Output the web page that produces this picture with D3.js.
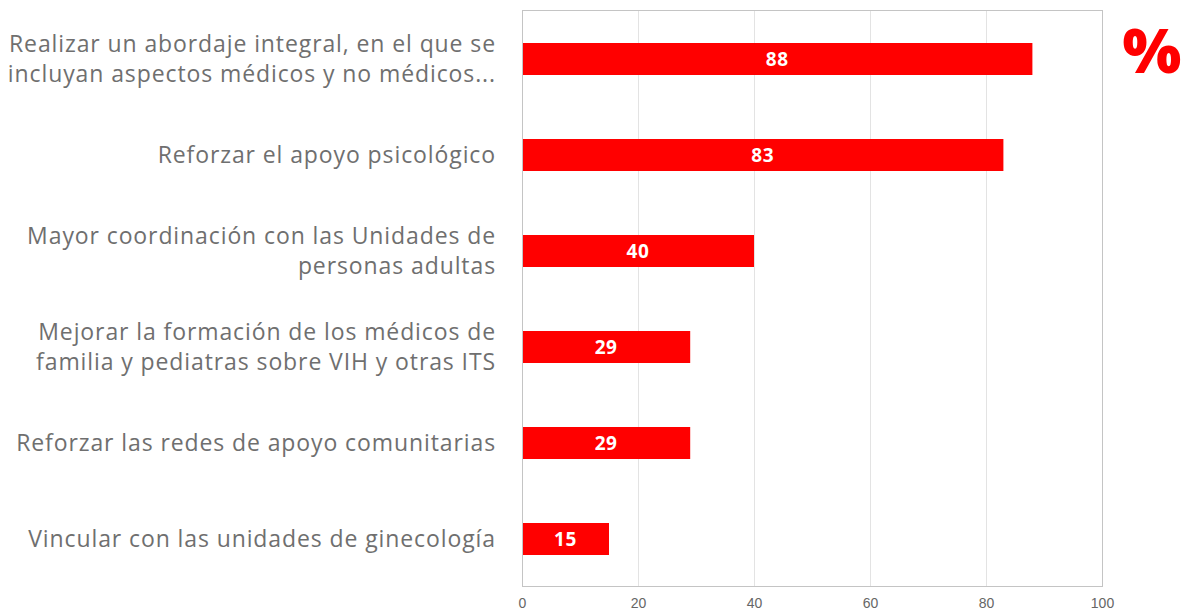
<!DOCTYPE html>
<html>
<head>
<meta charset="utf-8">
<script src="https://cdn.jsdelivr.net/npm/d3@7"></script>
<style>
  body { margin: 0; background: #fff; }
  svg { display: block; }
</style>
</head>
<body>
<svg></svg>
<script>
const categories = [
  ["Realizar un abordaje integral, en el que se", "incluyan aspectos médicos y no médicos..."],
  ["Reforzar el apoyo psicológico"],
  ["Mayor coordinación con las Unidades de", "personas adultas"],
  ["Mejorar la formación de los médicos de", "familia y pediatras sobre VIH y otras ITS"],
  ["Reforzar las redes de apoyo comunitarias"],
  ["Vincular con las unidades de ginecología"]
]
const values = [88, 83, 40, 29, 29, 15]
const xTicks = [0, 20, 40, 60, 80, 100]

const w = 1183
const h = 610
const plotLeft = 522
const plotRight = 1102
const plotTop = 11
const plotBottom = 587

const svg = d3.select("svg")
  .attr("width", w)
  .attr("height", h)

//Scales
const xScale = d3.scaleLinear()
  .domain([0, 100])
  .range([plotLeft, plotRight])

const yScale = d3.scaleBand()
  .domain(d3.range(categories.length))
  .range([plotTop, plotBottom])
  .paddingInner(2 / 3)
  .paddingOuter(1 / 3)

//Gridlines
svg.append("g")
  .selectAll("line")
  .data(xTicks)
  .enter()
  .append("line")
  .attr("x1", d => xScale(d) + 0.5)
  .attr("x2", d => xScale(d) + 0.5)
  .attr("y1", plotTop)
  .attr("y2", plotBottom)
  .attr("stroke", "#e3e3e3")
  .attr("stroke-width", 1)

//Frame
svg.append("rect")
  .attr("x", plotLeft + 0.5)
  .attr("y", plotTop - 0.5)
  .attr("width", plotRight - plotLeft)
  .attr("height", plotBottom - plotTop)
  .attr("fill", "none")
  .attr("stroke", "#c4c4c4")
  .attr("stroke-width", 1)

//X axis labels
const bottomAxis = d3.axisBottom(xScale)
  .tickValues(xTicks)
  .tickSize(0)
  .tickPadding(11)

const ax = svg.append("g")
  .attr("transform", `translate(0, ${plotBottom})`)
  .call(bottomAxis)
ax.select(".domain").remove()
ax.selectAll("text")
  .attr("fill", "#666")
  .style("font-family", "'Liberation Sans', Arial, sans-serif")
  .style("font-size", "14px")

//Bars
svg.selectAll(".bar")
  .data(values)
  .enter()
  .append("rect")
  .attr("class", "bar")
  .attr("x", xScale(0) + 1)
  .attr("y", (d, i) => yScale(i))
  .attr("width", d => xScale(d) - xScale(0) - 1)
  .attr("height", yScale.bandwidth())
  .attr("fill", "#ff0000")

//Value labels
svg.selectAll(".val")
  .data(values)
  .enter()
  .append("text")
  .attr("class", "val")
  .attr("x", d => (xScale(0) + xScale(d)) / 2)
  .attr("y", (d, i) => yScale(i) + yScale.bandwidth() / 2)
  .attr("dy", "0.36em")
  .attr("text-anchor", "middle")
  .attr("fill", "#fff")
  .style("font-family", "'Open Sans', sans-serif")
  .style("font-weight", "bold")
  .style("font-size", "19px")
  .style("letter-spacing", "0.6px")
  .text(d => d)

//Category labels
const lineH = 30
const cat = svg.selectAll(".cat")
  .data(categories)
  .enter()
  .append("text")
  .attr("class", "cat")
  .attr("text-anchor", "end")
  .attr("fill", "#6f6f6f")
  .style("font-family", "'Open Sans', sans-serif")
  .style("font-size", "23px")
  .style("letter-spacing", "0.9px")

cat.each(function (lines, i) {
  const cy = yScale(i) + yScale.bandwidth() / 2
  const start = cy - (lines.length - 1) * lineH / 2
  d3.select(this).selectAll("tspan")
    .data(lines)
    .enter()
    .append("tspan")
    .attr("x", 496)
    .attr("y", (d, j) => start + j * lineH)
    .attr("dy", "0.36em")
    .text(d => d)
})

//Percent sign
svg.append("text")
  .attr("x", 1152)
  .attr("y", 73)
  .attr("text-anchor", "middle")
  .attr("fill", "#ff0000")
  .style("font-family", "'Open Sans', sans-serif")
  .style("font-weight", "800")
  .style("font-size", "62px")
  .text("%")
</script>
</body>
</html>
